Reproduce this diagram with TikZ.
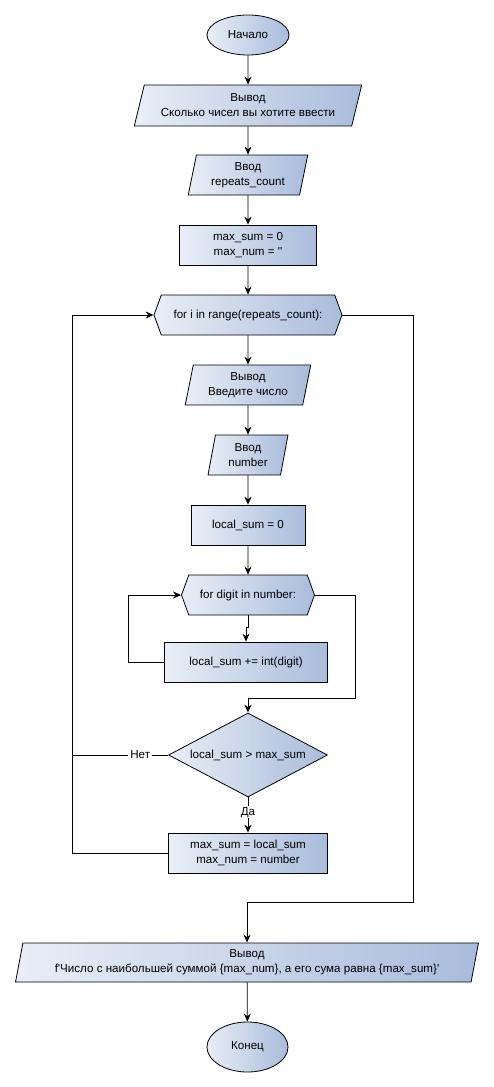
\documentclass[tikz,border=0pt]{standalone}
\usepackage{fontspec}
\setmainfont{Liberation Sans}
\usetikzlibrary{shapes.geometric,shapes.symbols,arrows.meta}
\definecolor{shadeL}{HTML}{E9EEF7}
\definecolor{shadeR}{HTML}{A8BCDB}
\begin{document}
\begin{tikzpicture}[x=1pt,y=-1pt,
  font=\fontsize{11.6}{15}\selectfont,
  every node/.style={inner sep=0pt, align=center, text=black},
  blk/.style={draw=black, line width=0.8pt, left color=shadeL, right color=shadeR},
  term/.style={blk, ellipse},
  proc/.style={blk, rectangle},
  io/.style={blk, trapezium, trapezium stretches=true},
  loophex/.style={blk, signal, signal to=west and east, signal pointer angle=140},
  cond/.style={blk, diamond, aspect=1.9},
  flow/.style={line width=0.8pt, -{Stealth[length=8pt,width=7pt]}},
  link/.style={line width=0.8pt},
  tag/.style={fill=white, inner xsep=2pt, inner ysep=1pt},
]
\useasboundingbox (0,0) rectangle (494,1087);

% main column
\node[term, minimum width=82pt, minimum height=40pt] (start) at (248,35) {Начало};
\node[io, trapezium left angle=70, trapezium right angle=110,
      minimum width=228pt, minimum height=41pt] (out1) at (248,105.5)
      {Вывод\\Сколько чисел вы хотите ввести};
\node[io, trapezium left angle=77, trapezium right angle=103,
      minimum width=120pt, minimum height=40pt] (in1) at (248,175)
      {Ввод\\repeats\_count};
\node[proc, minimum width=137pt, minimum height=40pt] (init) at (248,245)
      {max\_sum = 0\\max\_num = \textquotesingle\textquotesingle};
\node[loophex, minimum width=188pt, minimum height=40pt] (for1) at (248,315)
      {for i in range(repeats\_count):};
\node[io, trapezium left angle=77, trapezium right angle=103,
      minimum width=126pt, minimum height=40pt] (out2) at (248,385)
      {Вывод\\Введите число};
\node[io, trapezium left angle=79, trapezium right angle=101,
      minimum width=80pt, minimum height=40pt] (in2) at (248,455)
      {Ввод\\number};
\node[proc, minimum width=114pt, minimum height=40pt] (loc0) at (248,525)
      {local\_sum = 0};
\node[loophex, minimum width=133pt, minimum height=40pt] (for2) at (248,595)
      {for digit in number:};
\node[proc, minimum width=163pt, minimum height=40pt] (acc) at (246,662)
      {local\_sum += int(digit)};
\node[cond, minimum width=159pt, minimum height=84pt] (cmp) at (248,755)
      {local\_sum > max\_sum};
\node[proc, minimum width=159pt, minimum height=40pt] (upd) at (248,853)
      {max\_sum = local\_sum\\max\_num = number};
\node[io, trapezium left angle=76, trapezium right angle=104,
      minimum width=463pt, minimum height=39pt] (res) at (247,962.5)
      {Вывод\\f\textquotesingle Число с наибольшей суммой \{max\_num\}, а его сума равна \{max\_sum\}\textquotesingle};
\node[term, minimum width=81pt, minimum height=50pt] (end) at (247.5,1047) {Конец};

% routing points of the loops
\coordinate (lx) at (72,0);
\coordinate (ilx) at (128,0);
\coordinate (irx) at (355,698);
\coordinate (rx) at (413,902);

% straight flow
\draw[flow] (start) -- (out1);
\draw[flow] (out1) -- (in1);
\draw[flow] (in1) -- (init);
\draw[flow] (init) -- (for1);
\draw[flow] (for1) -- (out2);
\draw[flow] (out2) -- (in2);
\draw[flow] (in2) -- (loc0);
\draw[flow] (loc0) -- (for2);
\draw[flow] (for2.south) -- ++(0,12) -| (acc.north);
\draw[flow] (res) -- (end);

% inner loop
\draw[flow] (acc.west) -- (acc.west -| ilx) |- (for2.west);
\draw[flow] (for2.east) -| (irx) -- (irx -| cmp.north) -- (cmp.north);

% decision
\draw[flow] (cmp.south) -- node[tag, pos=0.42] {Да} (upd.north);
\draw[link] (cmp.west) -- node[tag, pos=0.29] {Нет} (cmp.west -| lx);

% outer loop
\draw[flow] (upd.west) -- (upd.west -| lx) |- (for1.west);
\draw[flow] (for1.east) -| (rx) -- (rx -| res.north) -- (res.north);
\end{tikzpicture}
\end{document}
